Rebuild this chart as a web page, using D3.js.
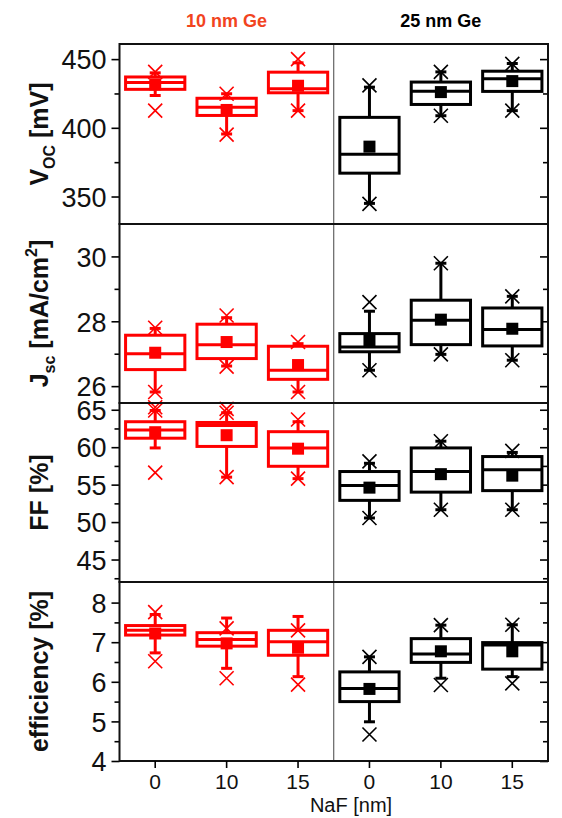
<!DOCTYPE html>
<html>
<head>
<meta charset="utf-8">
<script src="https://cdn.jsdelivr.net/npm/d3@7"></script>
<style>
  html, body { margin: 0; padding: 0; background: #fff; }
  svg { display: block; font-family: "Liberation Sans", Arial, sans-serif; }
</style>
</head>
<body>
<svg id="chart" width="562" height="818"></svg>
<script>
// NaF thickness for each box, grouped by Ge interlayer thickness
const categories = ["0", "10", "15", "0", "10", "15"];
const groupLabels = ["10 nm Ge", "25 nm Ge"];
const groupOfBox = [0, 0, 0, 1, 1, 1];

// Box statistics: [whisker low, Q1, median, Q3, whisker high]
const vocBoxes = [
  [423.5, 428, 433, 437, 440],
  [395.5, 409, 415, 421.5, 424.8],
  [412.5, 425.5, 428.5, 440.5, 447.3],
  [345, 367, 380.7, 407.6, 429.6],
  [408.8, 417, 426.7, 433.3, 440.7],
  [412.5, 426.5, 435.8, 441.2, 446.8]
];
const vocMeans = [431.6, 413, 430.6, 386.3, 426, 434];
const vocMarks = [[412.5, 440.7], [395, 424.8], [412.5, 450], [344.6, 430.9], [408.8, 440.7], [412.5, 446.5]];

const jscBoxes = [
  [25.82, 26.51, 27.0, 27.57, 27.78],
  [26.62, 26.85, 27.28, 27.91, 28.11],
  [25.82, 26.21, 26.49, 27.23, 27.31],
  [26.49, 27.06, 27.21, 27.62, 28.31],
  [26.98, 27.28, 28.03, 28.65, 29.79],
  [26.8, 27.24, 27.75, 28.41, 28.77]
];
const jscMeans = [27.03, 27.36, 26.65, 27.42, 28.05, 27.77];
const jscMarks = [[25.82, 27.8, 25.35], [26.6, 28.18, 25.3], [25.82, 27.36], [26.49, 28.59], [26.98, 29.79], [26.8, 28.77]];

const ffBoxes = [
  [59.9, 61.2, 62.3, 63.4, 64.9],
  [56.0, 60.1, 62.9, 63.3, 64.6],
  [55.8, 57.45, 59.9, 62.07, 63.4],
  [50.55, 52.9, 54.9, 56.75, 57.85],
  [51.65, 54.0, 56.75, 59.9, 60.8],
  [51.65, 54.2, 57.0, 58.75, 59.3]
];
const ffMeans = [62.0, 61.6, 59.8, 54.6, 56.4, 56.2];
const ffMarks = [[56.6, 64.9], [56.0, 64.6], [55.8, 63.7], [50.55, 58.1], [51.65, 60.8], [51.65, 59.5]];

const effBoxes = [
  [6.73, 7.18, 7.30, 7.42, 7.70],
  [6.34, 6.90, 7.07, 7.24, 7.61],
  [6.13, 6.67, 7.01, 7.30, 7.65],
  [4.99, 5.50, 5.83, 6.25, 6.63],
  [6.09, 6.49, 6.70, 7.09, 7.43],
  [6.13, 6.32, 6.93, 6.99, 7.44]
];
const effMeans = [7.22, 6.97, 6.86, 5.82, 6.77, 6.77];
const effMarks = [[6.52, 7.76], [6.09, 7.35], [5.93, 7.30], [4.67, 6.63], [5.92, 7.43], [5.96, 7.44]];

// Axis ranges and tick values per panel
const vocDomain = [330, 461], vocMajor = [350, 400, 450], vocMinor = [375, 425];
const jscDomain = [25.48, 31.0], jscMajor = [26, 28, 30], jscMinor = [27, 29];
const ffDomain = [42, 65.9], ffMajor = [45, 50, 55, 60, 65], ffMinor = [42.5, 47.5, 52.5, 57.5, 62.5];
const effDomain = [4, 8.52], effMajor = [4, 5, 6, 7, 8], effMinor = [4.5, 5.5, 6.5, 7.5];

const groupColors = ["#ff0000", "#000000"];
const headerColors = ["#f2441e", "#000000"];

const svg = d3.select("#chart");
const left = 119.5, right = 548;
const panelEdges = [44, 224, 403, 582, 761];

const x = d3.scaleBand().domain(d3.range(categories.length)).range([left, right]).padding(0);
const boxW = x.bandwidth() * 0.83;

const panels = [
  { boxes: vocBoxes, means: vocMeans, marks: vocMarks, domain: vocDomain, major: vocMajor, minor: vocMinor,
    label: [{t: "V"}, {t: "OC", sub: true}, {t: " [mV]"}] },
  { boxes: jscBoxes, means: jscMeans, marks: jscMarks, domain: jscDomain, major: jscMajor, minor: jscMinor,
    label: [{t: "J"}, {t: "sc", sub: true}, {t: " [mA/cm"}, {t: "2", sup: true}, {t: "]"}] },
  { boxes: ffBoxes, means: ffMeans, marks: ffMarks, domain: ffDomain, major: ffMajor, minor: ffMinor,
    label: [{t: "FF [%]"}] },
  { boxes: effBoxes, means: effMeans, marks: effMarks, domain: effDomain, major: effMajor, minor: effMinor,
    label: [{t: "efficiency [%]"}] }
];

panels.forEach((p, pi) => {
  const top = panelEdges[pi], bottom = panelEdges[pi + 1];
  const y = d3.scaleLinear().domain(p.domain).range([bottom, top]);
  const g = svg.append("g");

  // left axis: outward ticks with labels
  const leftAxis = d3.axisLeft(y).tickValues(p.major).tickSize(8).tickSizeOuter(0).tickPadding(5)
    .tickFormat(d3.format("d"));
  const la = g.append("g").attr("transform", `translate(${left},0)`).call(leftAxis);
  la.select(".domain").remove();
  la.selectAll(".tick line").attr("stroke", "#000").attr("stroke-width", 1.6);
  la.selectAll(".tick text").attr("font-size", 27).attr("fill", "#111")
    .attr("font-family", "Liberation Sans, Arial, sans-serif").attr("dy", "0.36em");
  const lm = g.append("g").attr("transform", `translate(${left},0)`)
    .call(d3.axisLeft(y).tickValues(p.minor).tickSize(5).tickSizeOuter(0).tickFormat(""));
  lm.select(".domain").remove();
  lm.selectAll(".tick line").attr("stroke", "#000").attr("stroke-width", 1.6);

  // right axis: inward ticks, no labels
  const ra = g.append("g").attr("transform", `translate(${right},0)`)
    .call(d3.axisRight(y).tickValues(p.major).tickSize(-8).tickSizeOuter(0).tickFormat(""));
  ra.select(".domain").remove();
  ra.selectAll(".tick line").attr("stroke", "#000").attr("stroke-width", 1.6);
  const rm = g.append("g").attr("transform", `translate(${right},0)`)
    .call(d3.axisRight(y).tickValues(p.minor).tickSize(-5).tickSizeOuter(0).tickFormat(""));
  rm.select(".domain").remove();
  rm.selectAll(".tick line").attr("stroke", "#000").attr("stroke-width", 1.6);

  // boxes
  p.boxes.forEach((b, i) => {
    const col = groupColors[groupOfBox[i]];
    const cx = x(i) + x.bandwidth() / 2;
    const bg = g.append("g").attr("stroke", col).attr("fill", "none");
    // whiskers
    bg.append("line").attr("x1", cx).attr("x2", cx).attr("y1", y(b[0])).attr("y2", y(b[1])).attr("stroke-width", 3);
    bg.append("line").attr("x1", cx).attr("x2", cx).attr("y1", y(b[3])).attr("y2", y(b[4])).attr("stroke-width", 3);
    [b[0], b[4]].forEach(v => {
      bg.append("line").attr("x1", cx - 5.5).attr("x2", cx + 5.5).attr("y1", y(v)).attr("y2", y(v)).attr("stroke-width", 3);
    });
    // box and median
    bg.append("rect").attr("x", cx - boxW / 2).attr("width", boxW)
      .attr("y", y(b[3])).attr("height", y(b[1]) - y(b[3])).attr("fill", "#fff").attr("stroke-width", 3);
    bg.append("line").attr("x1", cx - boxW / 2).attr("x2", cx + boxW / 2)
      .attr("y1", y(b[2])).attr("y2", y(b[2])).attr("stroke-width", 3);
    // mean
    bg.append("rect").attr("x", cx - 6).attr("y", y(p.means[i]) - 6).attr("width", 12).attr("height", 12)
      .attr("fill", col).attr("stroke", "none");
    // 1% / 99% and extreme markers
    p.marks[i].forEach(v => {
      const yy = y(v), s = 7;
      bg.append("path").attr("d", `M${cx - s},${yy - s}L${cx + s},${yy + s}M${cx - s},${yy + s}L${cx + s},${yy - s}`)
        .attr("stroke-width", 1.6);
    });
  });

  // y axis title
  const ty = (top + bottom) / 2;
  const t = svg.append("text").attr("transform", `translate(48,${ty}) rotate(-90)`)
    .attr("text-anchor", "middle").attr("font-weight", "bold").attr("font-size", 25).attr("fill", "#111");
  let shift = 0;
  p.label.forEach(part => {
    const ts = t.append("tspan").text(part.t);
    let target = 0;
    if (part.sub) { ts.attr("font-size", 16); target = 7; }
    else if (part.sup) { ts.attr("font-size", 16); target = -11; }
    if (target !== shift) { ts.attr("dy", target - shift); shift = target; }
  });
});

// group divider
svg.append("line").attr("x1", x(3)).attr("x2", x(3)).attr("y1", panelEdges[0]).attr("y2", panelEdges[4])
  .attr("stroke", "#444").attr("stroke-width", 1);

// panel frames
panels.forEach((p, pi) => {
  svg.append("rect").attr("x", left).attr("y", panelEdges[pi]).attr("width", right - left)
    .attr("height", panelEdges[pi + 1] - panelEdges[pi]).attr("fill", "none").attr("stroke", "#111").attr("stroke-width", 2);
});

// bottom axis
const xa = svg.append("g").attr("transform", `translate(0,${panelEdges[4]})`)
  .call(d3.axisBottom(x).tickSize(7).tickSizeOuter(0).tickPadding(6).tickFormat(i => categories[i]));
xa.select(".domain").remove();
xa.selectAll(".tick line").attr("stroke", "#000").attr("stroke-width", 1.6);
xa.selectAll(".tick text").attr("font-size", 21).attr("fill", "#111")
  .attr("font-family", "Liberation Sans, Arial, sans-serif");

svg.append("text").attr("x", 351).attr("y", 812).attr("text-anchor", "middle")
  .attr("font-size", 20).attr("fill", "#111").text("NaF [nm]");

// group headers
groupLabels.forEach((lab, gi) => {
  const cx = x(gi * 3 + 1) + x.bandwidth() / 2;
  svg.append("text").attr("x", cx).attr("y", 27).attr("text-anchor", "middle")
    .attr("font-weight", "bold").attr("font-size", 18).attr("fill", headerColors[gi]).text(lab);
});
</script>
</body>
</html>
